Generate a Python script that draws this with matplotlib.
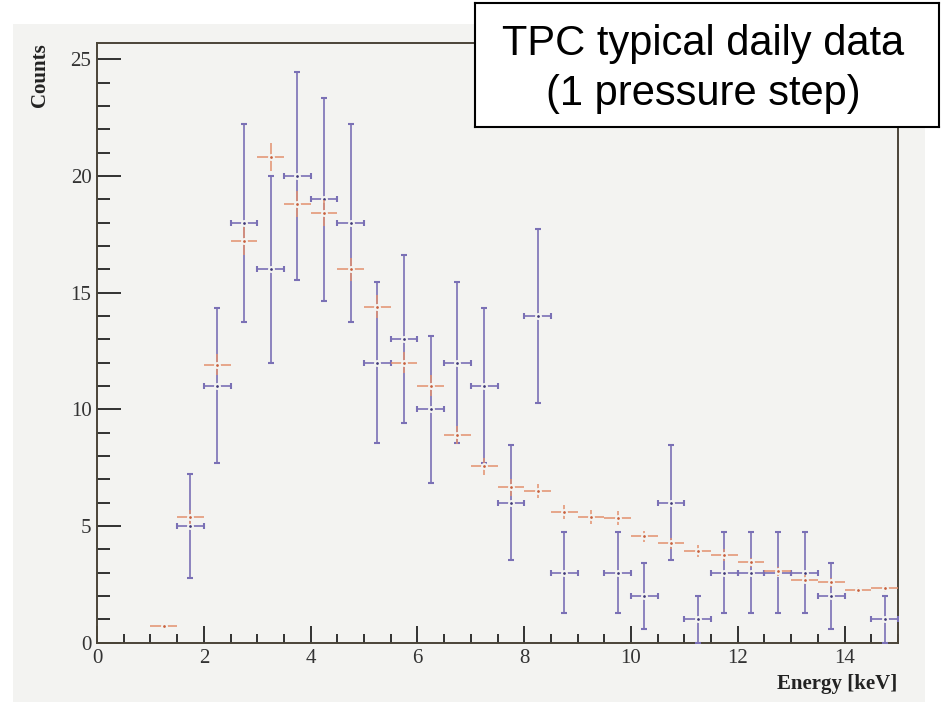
import numpy as np
import matplotlib.pyplot as plt
from matplotlib.patches import Rectangle

# simulation (red) - bin centres, contents, errors
sim_x = [1.25, 1.75, 2.25, 2.75, 3.25, 3.75, 4.25, 4.75, 5.25, 5.75, 6.25, 6.75, 7.25, 7.75,
         8.25, 8.75, 9.25, 9.75, 10.25, 10.75, 11.25, 11.75, 12.25, 12.75, 13.25, 13.75, 14.25, 14.75]
sim_y = [0.7, 5.4, 11.9, 17.2, 20.8, 18.8, 18.4, 16.0, 14.4, 12.0, 11.0, 8.9, 7.55, 6.65,
         6.5, 5.6, 5.4, 5.33, 4.55, 4.25, 3.92, 3.75, 3.44, 3.05, 2.7, 2.58, 2.25, 2.33]
sim_err = [0.1, 0.3, 0.45, 0.6, 0.6, 0.55, 0.55, 0.5, 0.5, 0.45, 0.45, 0.4, 0.35, 0.35,
           0.3, 0.3, 0.3, 0.3, 0.25, 0.25, 0.25, 0.25, 0.2, 0.2, 0.2, 0.2, 0.15, 0.15]

# daily data (blue)
dat_x = [1.75, 2.25, 2.75, 3.25, 3.75, 4.25, 4.75, 5.25, 5.75, 6.25, 6.75, 7.25, 7.75,
         8.25, 8.75, 9.75, 10.25, 10.75, 11.25, 11.75, 12.25, 12.75, 13.25, 13.75, 14.75]
dat_y = [5, 11, 18, 16, 20, 19, 18, 12, 13, 10, 12, 11, 6,
         14, 3, 3, 2, 6, 1, 3, 3, 3, 3, 2, 1]
dat_err = [2.24, 3.32, 4.24, 4.0, 4.47, 4.36, 4.24, 3.46, 3.61, 3.16, 3.46, 3.32, 2.45,
           3.74, 1.73, 1.73, 1.41, 2.45, 1.0, 1.73, 1.73, 1.73, 1.73, 1.41, 1.0]

bin_half = 0.25
bg = '#f3f3f1'
frame = '#4a4438'

fig = plt.figure(figsize=(9.41, 7.07), dpi=100, facecolor='white')
# grey canvas behind the plot
fig.patches.append(Rectangle((0.0138, 0.0071), 0.969, 0.959, transform=fig.transFigure,
                             facecolor=bg, edgecolor='none', zorder=-5))

ax = fig.add_axes([0.1031, 0.0912, 0.8512, 0.848])
ax.set_facecolor(bg)
ax.set_zorder(1)

ax.errorbar(dat_x, dat_y, xerr=bin_half, yerr=dat_err, fmt='o', ms=3.5,
            color='#7a70b5', mfc='#3f3878', mec=bg, mew=1.5,
            elinewidth=1.2, capsize=2.5, capthick=1.2, zorder=3)
ax.errorbar(sim_x, sim_y, xerr=bin_half, yerr=sim_err, fmt='o', ms=3.5,
            color='#e3906e', mfc='#c8603c', mec=bg, mew=1.5,
            elinewidth=1.1, capsize=0, zorder=4)

ax.set_xlim(0, 15)
ax.set_ylim(0, 25.7)
ax.set_xticks(np.arange(0, 15, 2))
ax.set_xticks(np.arange(0, 15.01, 0.5), minor=True)
ax.set_yticks(np.arange(0, 26, 5))
ax.set_yticks(np.arange(0, 26, 1), minor=True)

for s in ax.spines.values():
    s.set_color(frame)
    s.set_linewidth(1.4)

ax.tick_params(axis='x', which='major', direction='in', length=12, width=1.3, color='#222222', pad=5)
ax.tick_params(axis='x', which='minor', direction='in', length=6.5, width=1.3, color='#222222')
ax.tick_params(axis='y', which='major', direction='in', length=17, width=1.3, color='#222222', pad=4)
ax.tick_params(axis='y', which='minor', direction='in', length=9, width=1.3, color='#222222')
for lab in ax.get_xticklabels() + ax.get_yticklabels():
    lab.set_fontfamily('Liberation Serif')
    lab.set_fontsize(15)
    lab.set_color('#333333')

fig.text(0.0425, 0.939, 'Counts', rotation=90, ha='center', va='top',
         family='Liberation Serif', weight='bold', fontsize=15, color='#222222')
fig.text(0.953, 0.032, 'Energy [keV]', ha='right', va='center',
         family='Liberation Serif', weight='bold', fontsize=15, color='#222222')

# annotation box (drawn above the axes)
box_ax = fig.add_axes([0.5048, 0.820, 0.493, 0.176])
box_ax.set_zorder(10)
box_ax.set_xticks([])
box_ax.set_yticks([])
box_ax.set_facecolor('white')
for s in box_ax.spines.values():
    s.set_color('black')
    s.set_linewidth(1.5)
box_ax.text(0.492, 0.584, 'TPC typical daily data', ha='center', va='baseline',
            family='Liberation Sans', fontsize=30, transform=box_ax.transAxes)
box_ax.text(0.492, 0.176, '(1 pressure step)', ha='center', va='baseline',
            family='Liberation Sans', fontsize=30, transform=box_ax.transAxes)

fig.savefig('out.png', dpi=100, facecolor='white')
